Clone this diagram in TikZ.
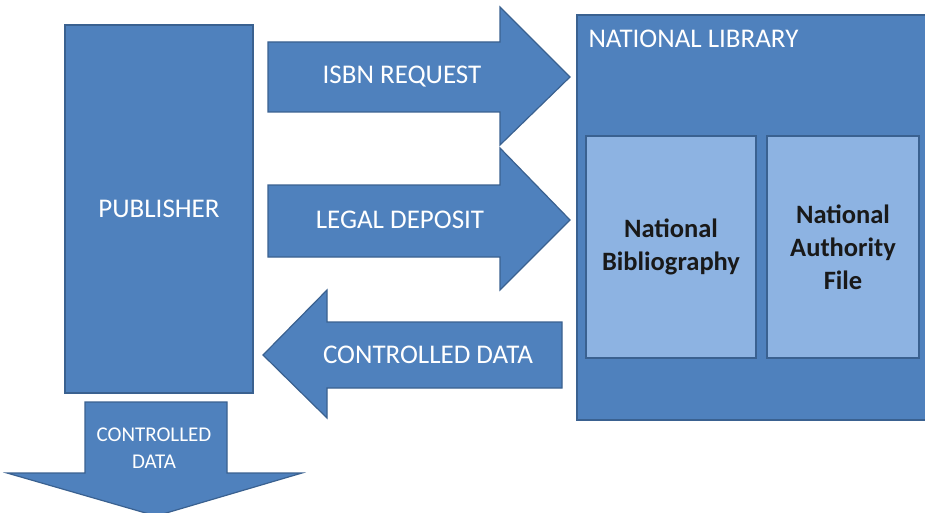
\documentclass[tikz,border=0pt]{standalone}
\usepackage{fontspec}
\setmainfont{Carlito}
\usetikzlibrary{positioning}
\definecolor{officeblue}{HTML}{4F81BD}
\definecolor{officeedge}{HTML}{3A6190}
\definecolor{paleblue}{HTML}{8DB3E2}
\tikzstyle{blockbox}=[draw=officeedge,fill=officeblue,line width=1.2pt,
inner sep=0pt]
\tikzstyle{filebox}=[draw=officeedge,fill=paleblue,line width=1.2pt,
inner sep=0pt,align=center,text=black!90,
font=\bfseries\fontsize{26.5}{33}\selectfont]

\begin{document}
\begin{tikzpicture}[x=1pt,y=-1pt]
    \useasboundingbox (0,0) rectangle (925,513);
    \tikzstyle{aname}=[text=white,font=\fontsize{27}{30}\selectfont]
    \tikzstyle{sname}=[text=white,align=center,
    font=\fontsize{21}{27}\selectfont]

    % the two sides
    \node[blockbox,aname,minimum width=188,minimum height=368]
    at (159,209) (pub) {PUBLISHER};
    \node[blockbox,minimum width=352,minimum height=405]
    at (753,217.5) (lib) {};
    \node[aname,anchor=west] at (585,39) (libname) {NATIONAL LIBRARY};

    \node[filebox,minimum width=170,minimum height=222]
    at (671,247) (bib) {National\\Bibliography};
    \node[filebox,minimum width=152,minimum height=222]
    at (843,247) (auth) {National\\Authority\\File};

    % block arrows
    \filldraw[blockbox] (268,42) -- (500,42) -- (500,7) -- (570,77)
    -- (500,145) -- (500,112) -- (268,112) -- cycle;
    \node[aname] at (402,77) (isbn) {ISBN REQUEST};

    \filldraw[blockbox] (268,185) -- (500,185) -- (500,148) -- (570,220)
    -- (500,290) -- (500,257) -- (268,257) -- cycle;
    \node[aname] at (400,220) (deposit) {LEGAL DEPOSIT};

    \filldraw[blockbox] (562,322) -- (327,322) -- (327,290) -- (263,355)
    -- (327,418) -- (327,388) -- (562,388) -- cycle;
    \node[aname] at (428,355) (back) {CONTROLLED DATA};

    \filldraw[blockbox] (85,402) -- (227,402) -- (227,473) -- (302,473)
    -- (156,516) -- (7,473) -- (85,473) -- cycle;
    \node[sname] at (154,448) (out) {CONTROLLED\\DATA};
\end{tikzpicture}
\end{document}
